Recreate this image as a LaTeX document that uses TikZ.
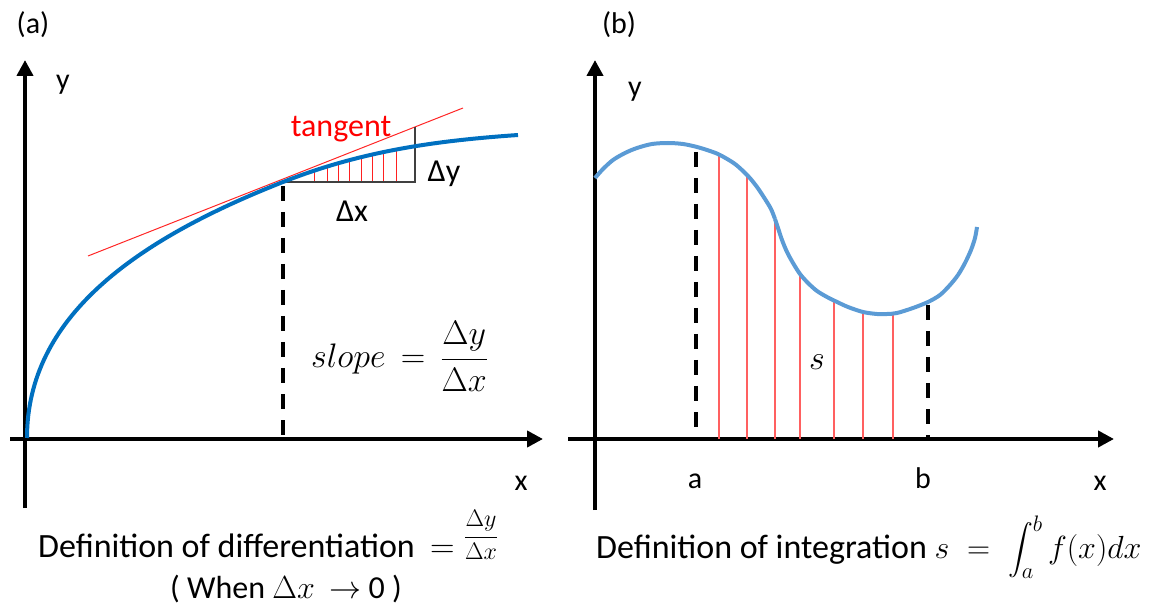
\documentclass[tikz,border=0pt]{standalone}
\usepackage{fix-cm}
\usepackage{exscale}
\usepackage{fontspec}
\setmainfont{Carlito}
\usetikzlibrary{arrows.meta}
\definecolor{blueA}{HTML}{0070C0}
\definecolor{blueB}{HTML}{5B9BD5}
\definecolor{hatchA}{HTML}{FF2020}
\definecolor{hatchB}{HTML}{FF6060}
\definecolor{tri}{HTML}{404040}
\def\curveBa{(595,178) (603,169) (613,160) (625,153) (637,148) (652,144) (668,143) (683,144) (697,147) (710,151) (720,155) (735,164) (748,176) (757,187) (765,199) (771,209) (775,219)}
\def\curveBb{(775,219) (778,228) (782,240) (787,252) (793,263) (800,274) (808,283) (817,291) (827,297) (835,301) (848,307) (863,312) (877,314) (887,314) (897,313) (913,308) (928,302) (940,295) (950,285) (958,275) (965,263) (971,250) (975,238) (977,227)}
\begin{document}
\begin{tikzpicture}[x=1pt,y=-1pt,
  axis/.style={line width=4pt,-{Triangle[length=16pt,width=16pt]}},
  lbl/.style={font=\fontsize{30}{36}\selectfont,inner sep=0pt},
  lblm/.style={font=\fontsize{32}{38}\selectfont,inner sep=0pt},
  lbll/.style={font=\fontsize{34}{40}\selectfont,inner sep=0pt},
  mth/.style={font=\fontsize{34}{40}\selectfont,inner sep=0pt},
  guide/.style={line width=3.5pt,dash pattern=on 15pt off 11pt},
  hatchAline/.style={hatchA,line width=1pt},
  hatchBline/.style={hatchB,line width=1.3pt}]
\path[use as bounding box] (0,0) rectangle (1151,609);

% ---------------- (a) ----------------
\coordinate (ayb) at (25,508);
\coordinate (ayt) at (25,60);
\coordinate (axl) at (10,439);
\coordinate (axr) at (543,439);
\draw[axis] (ayb) -- (ayt);
\draw[axis] (axl) -- (axr);
\node[lbl] (la) at (33,25) {(a)};
\node[lbl,anchor=base] (lya) at (63,90) {y};
\node[lbl,anchor=base] (lxa) at (521,490) {x};

% curve endpoints
\coordinate (c0) at (27,438);
\coordinate (c1) at (283,182);
\coordinate (c2) at (518,135);

% hatch lines under the curve
\begin{scope}
\clip (c0) .. controls (27,318) and (133,241) .. (c1) .. controls (363,150.4) and (438,140.6) .. (c2) -- (518,438) -- cycle;
\foreach \xx in {314,327,338,349,361,372,383,396}
  \draw[hatchAline] (\xx,182) -- (\xx,100);
\end{scope}

% tangent
\coordinate (t1) at (88,256);
\coordinate (t2) at (463,108);
\draw[red!85!white,line width=1pt] (t1) -- (t2);

% triangle
\coordinate (p1) at (415,182);
\coordinate (p2) at (415,127);
\draw[tri,line width=1.1pt] (c1) -- (p1) -- (p2);

% curve
\draw[blueA,line width=4pt] (c0) .. controls (27,318) and (133,241) .. (c1) .. controls (363,150.4) and (438,140.6) .. (c2);

% dashed guide
\coordinate (pa) at (283,186);
\coordinate (pb) at (283,439);
\draw[guide] (pa) -- (pb);

\node[lblm,red,anchor=base] (ltan) at (341,137) {tangent};
\node[lblm,anchor=base] (ldy) at (444,182) {Δy};
\node[lblm,anchor=base] (ldx) at (352,222) {Δx};
\node[mth,anchor=base west] (slope) at (311,368) {$slope\,=\,{\displaystyle\frac{\Delta y}{\Delta x}}$};

\node[lbll,anchor=base west] (defd) at (38,557) {Definition of differentiation\;\,$=$\;\raisebox{14pt}{\fontsize{24}{28}\selectfont$\displaystyle\frac{\Delta y}{\Delta x}$}};
\node[lblm,anchor=base] (when) at (286,598) {( When $\Delta x$ \ $\rightarrow$ 0 )};

% ---------------- (b) ----------------
\coordinate (byb) at (595,510);
\coordinate (byt) at (595,60);
\coordinate (bxl) at (568,439);
\coordinate (bxr) at (1114,439);
\draw[axis] (byb) -- (byt);
\draw[axis] (bxl) -- (bxr);
\node[lbl] (lb) at (619,25) {(b)};
\node[lbl,anchor=base] (lyb) at (635,97) {y};
\node[lbl,anchor=base] (lxb) at (1100,490) {x};
\node[lbl,anchor=base] (la2) at (695,488) {a};
\node[lbl,anchor=base] (lb2) at (923,488) {b};

\begin{scope}
\clip plot[smooth] coordinates {\curveBa} -- plot[smooth] coordinates {\curveBb} -- (977,439) -- (595,439) -- cycle;
\foreach \xx in {719,747,775,800,834,863,893}
  \draw[hatchBline] (\xx,439) -- (\xx,100);
\end{scope}

\coordinate (qa1) at (696,152);
\coordinate (qa2) at (696,439);
\coordinate (qb1) at (928,305);
\coordinate (qb2) at (928,439);
\draw[guide] (qa1) -- (qa2);
\draw[guide] (qb1) -- (qb2);

\draw[blueB,line width=4pt] plot[smooth] coordinates {\curveBa};
\draw[blueB,line width=4pt] plot[smooth] coordinates {\curveBb};

\node[mth,anchor=base] (ls) at (817,370) {$s$};

\node[lbll,anchor=base west] (defi) at (596,558) {Definition of integration {\fontsize{32}{38}\selectfont$s\;=\;\displaystyle\int_a^b f(x)dx$}};
\end{tikzpicture}
\end{document}
